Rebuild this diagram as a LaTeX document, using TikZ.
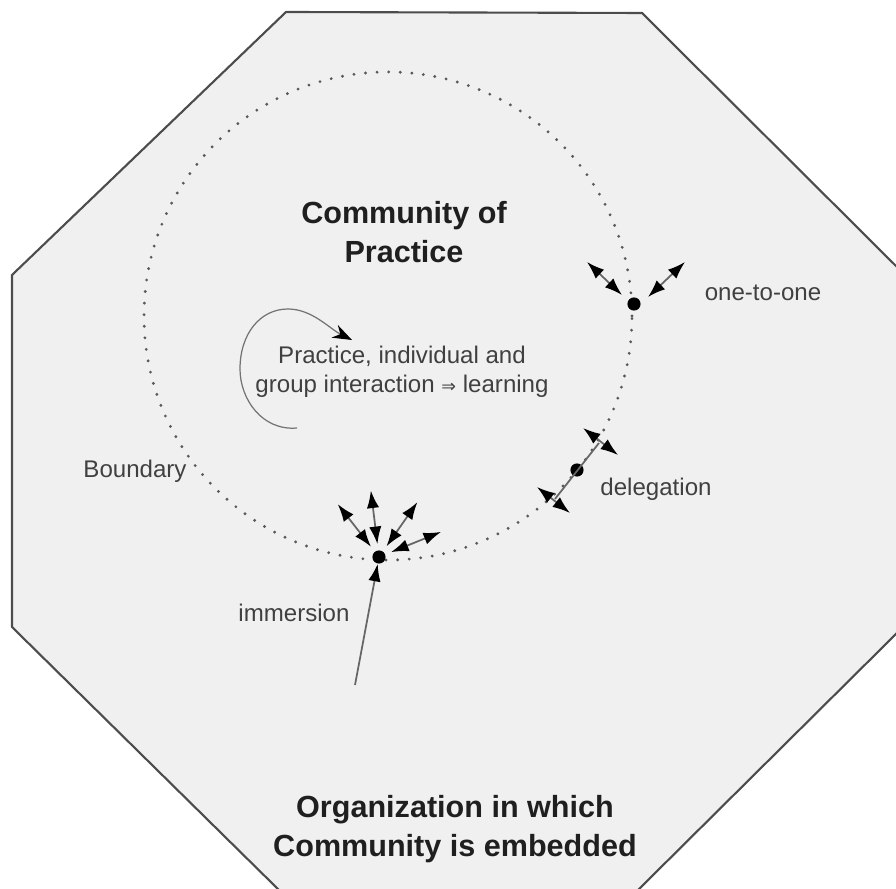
\documentclass[tikz,border=0pt]{standalone}
\usepackage{fontspec}
\setmainfont{Liberation Sans}
\newfontfamily\arrowfont{DejaVu Sans}
\usepackage{tikz}
\usetikzlibrary{arrows.meta,positioning}
\tikzset{
lbl/.style={text=black!75,font=\fontsize{13.7}{16.5}\selectfont},
ttl/.style={text=black!88,align=center,font=\bfseries\fontsize{17.4}{22.6}\selectfont},
member/.style={circle,fill=black,inner sep=0pt,minimum size=7.5pt},
link/.style={draw=black!60,line width=1pt,
  {Latex[length=10pt,width=7pt,color=black]}-{Latex[length=10pt,width=7pt,color=black]}},
}

\begin{document}
\begin{tikzpicture}[x=0.02cm,y=0.02cm]
\useasboundingbox (0,0) rectangle (896,889);
\draw[black!70,line width=1.2pt,fill=black!6]
(286,877)--(642,876)--(900,619)--(900,259)--(635,-4)--(282,-4)--(12,262)--(12,614)--cycle;
\coordinate (cop) at (388,573);
\draw[black!65,line width=1.8pt,line cap=round,dash pattern=on 0pt off 6.6pt] (cop) circle (244);
\node[ttl] (title) at (404,657) {Community of\\Practice};
\node[lbl,align=center] (practice) at (402,517)
{Practice, individual and\\group interaction {\arrowfont\fontsize{10}{12}\selectfont ⇒} learning};
\node[lbl] (boundary) at (135,418) {Boundary};
\node[ttl] (org) at (455,60) {Organization in which\\Community is embedded};
\draw[black!55,line width=0.7pt,-{Stealth[length=11pt,width=8pt,color=black]}]
(297,461) .. controls (262,458) and (240,490) .. (240,520)
.. controls (240,555) and (260,580) .. (288,580)
.. controls (312,580) and (330,560) .. (352,549);
\node[member] (one) at (634,585) {};
\node[lbl] (onelbl) at (763,596) {one-to-one};
\draw[link] ([shift={(-12,9)}]one.center) -- ([shift={(-47,42)}]one.center);
\draw[link] ([shift={(14,7)}]one.center) -- ([shift={(51,42)}]one.center);
\node[member] (del) at (577,419) {};
\node[lbl] (dellbl) at (656,400) {delegation};
\draw[link] ([shift={(6,42)}]del.center) -- ([shift={(41,15)}]del.center);
\draw[link] ([shift={(-40,-17)}]del.center) -- ([shift={(-7,-43)}]del.center);
\draw[black!60,line width=1pt] ([shift={(-22,-29)}]del.center) -- ([shift={(22,27)}]del.center);
\node[member] (imm) at (379,332) {};
\node[lbl] (immlbl) at (294,276) {immersion};
\coordinate (immfoot) at (355,204);
\draw[black!60,line width=1pt,-{Latex[length=10pt,width=7pt,color=black]}] (immfoot) -- (imm);
\foreach \a in {128,97,55,22}
  \draw[link] ([shift={(\a:13)}]imm.center) -- ([shift={(\a:67)}]imm.center);
\end{tikzpicture}
\end{document}
